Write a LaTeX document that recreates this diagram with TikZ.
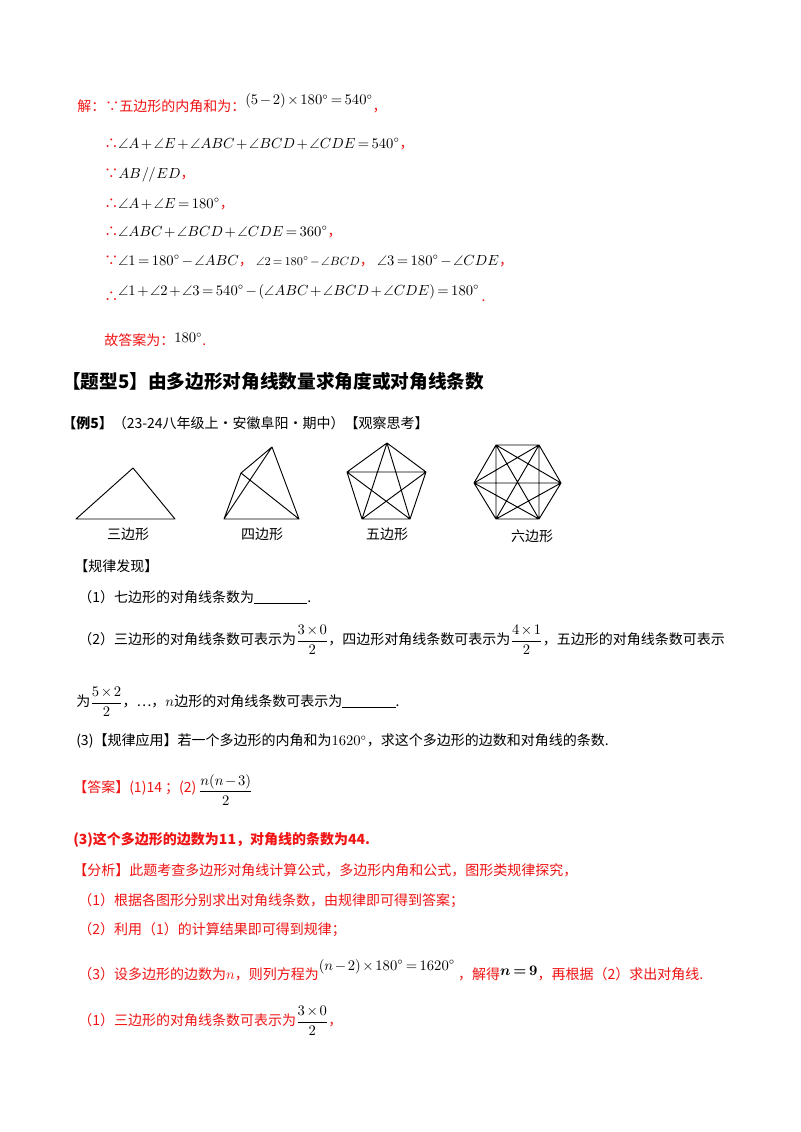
\documentclass[tikz,border=0pt]{standalone}
\usepackage{amsmath,amssymb}
\usepackage{fontspec}
\setmainfont{Noto Sans CJK SC}
\definecolor{rd}{RGB}{240,20,20}
\newcommand{\R}[1]{\textcolor{rd}{#1}}
\newcommand{\mm}[1]{{\medmuskip=2mu\thickmuskip=3mu\thinmuskip=1mu$#1$}}
\begin{document}
\begin{tikzpicture}[x=0.75pt,y=-0.75pt,
  t/.style={anchor=west,inner sep=0pt,font=\fontsize{10.5}{12}\selectfont},
  r/.style={t,text=rd},
  poly/.style={line width=0.7pt,line join=round}]
\useasboundingbox[fill=white] (0,0) rectangle (800,1132);
% solution
\node[t] (s1) at (77,103) {\R{解：∵五边形的内角和为：}\raisebox{5pt}{\mm{(5-2)\times180^\circ=540^\circ}}\R{，}};
\node[t] (s2) at (104,144) {\R{∴}\mm{\angle A+\angle E+\angle ABC+\angle BCD+\angle CDE=540^\circ}\R{，}};
\node[t] (s3) at (104,175) {\R{∵}\mm{AB\,/\!/\,ED}\R{，}};
\node[t] (s4) at (104,204) {\R{∴}\mm{\angle A+\angle E=180^\circ}\R{，}};
\node[t] (s5) at (104,232) {\R{∴}\mm{\angle ABC+\angle BCD+\angle CDE=360^\circ}\R{，}};
\node[t] (s6) at (104,261) {\R{∵}\mm{\angle1=180^\circ-\angle ABC}\R{，} {\small\mm{\angle2=180^\circ-\angle BCD}}\R{，} \mm{\angle3=180^\circ-\angle CDE}\R{，}};
\node[t] (s7) at (104,293) {\R{∴}\raisebox{5pt}{\mm{\angle1+\angle2+\angle3=540^\circ-(\angle ABC+\angle BCD+\angle CDE)=180^\circ}}\,\R{.}};
\node[t] (s8) at (104,340) {\R{故答案为：}\raisebox{2pt}{\mm{180^\circ}}\R{.}};
% heading
\node[t,font=\fontsize{14}{16}\selectfont\bfseries] (h) at (62,381) {【题型5】由多边形对角线数量求角度或对角线条数};
\node[t] (ex) at (62,423) {\textbf{【例5】}（23-24八年级上·安徽阜阳·期中）【观察思考】};
% figures
\coordinate (T1) at (76,519); \coordinate (T2) at (133,468); \coordinate (T3) at (175,519);
\draw[poly] (T1)--(T2)--(T3)--cycle;
\coordinate (Q1) at (224,519); \coordinate (Q2) at (241,473); \coordinate (Q3) at (272,447); \coordinate (Q4) at (299,519);
\draw[poly] (Q1)--(Q2)--(Q3)--(Q4)--cycle (Q1)--(Q3) (Q2)--(Q4);
\coordinate (P1) at (387,443); \coordinate (P2) at (426,472); \coordinate (P3) at (410,519); \coordinate (P4) at (362,519); \coordinate (P5) at (347,472);
\draw[poly] (P1)--(P2)--(P3)--(P4)--(P5)--cycle (P1)--(P3)--(P5)--(P2)--(P4)--cycle;
\coordinate (H1) at (496,445); \coordinate (H2) at (539,445); \coordinate (H3) at (561,483); \coordinate (H4) at (539,519); \coordinate (H5) at (496,519); \coordinate (H6) at (474,483);
\draw[poly] (H1)--(H2)--(H3)--(H4)--(H5)--(H6)--cycle
  (H1)--(H3) (H1)--(H4) (H1)--(H5) (H2)--(H4) (H2)--(H5) (H2)--(H6) (H3)--(H5) (H3)--(H6) (H4)--(H6);
\node[t,anchor=center] (L1) at (128,534) {三边形};
\node[t,anchor=center] (L2) at (262,534) {四边形};
\node[t,anchor=center] (L3) at (387,534) {五边形};
\node[t,anchor=center] (L4) at (532,536) {六边形};
% problem
\node[t] (p0) at (74,566) {【规律发现】};
\node[t] (p1) at (78,597) {（1）七边形的对角线条数为\rule[-1pt]{40pt}{0.8pt}.};
\node[t] (p2) at (78,640) {（2）三边形的对角线条数可表示为\mm{\dfrac{3\times0}{2}}，四边形对角线条数可表示为\mm{\dfrac{4\times1}{2}}，五边形的对角线条数可表示};
\node[t] (p3) at (76,702) {为\mm{\dfrac{5\times2}{2}}，…，\mm{n}边形的对角线条数可表示为\rule[-1pt]{40pt}{0.8pt}.};
\node[t] (p4) at (76,741) {(3)【规律应用】若一个多边形的内角和为\mm{1620^\circ}，求这个多边形的边数和对角线的条数.};
% answer
\node[t] (an) at (73,790) {\R{【答案】(1)14 ；(2)}\,\raisebox{-2pt}{\mm{\dfrac{n(n-3)}{2}}}};
\node[r] (a3) at (73,840) {\bfseries (3)这个多边形的边数为11，对角线的条数为44.};
\node[r] (f0) at (73,870) {【分析】此题考查多边形对角线计算公式，多边形内角和公式，图形类规律探究，};
\node[r] (f1) at (78,901) {（1）根据各图形分别求出对角线条数，由规律即可得到答案；};
\node[r] (f2) at (78,930) {（2）利用（1）的计算结果即可得到规律；};
\node[t] (f3) at (78,970) {\R{（3）设多边形的边数为\mm{n}，则列方程为}\raisebox{7pt}{\mm{(n-2)\times180^\circ=1620^\circ}}\ \R{，解得}\raisebox{3pt}{\mm{\boldsymbol{n=9}}}\R{，再根据（2）求出对角线.}};
\node[t] (f4) at (78,1021) {\R{（1）三边形的对角线条数可表示为}\mm{\dfrac{3\times0}{2}}\R{，}};
\end{tikzpicture}
\end{document}
